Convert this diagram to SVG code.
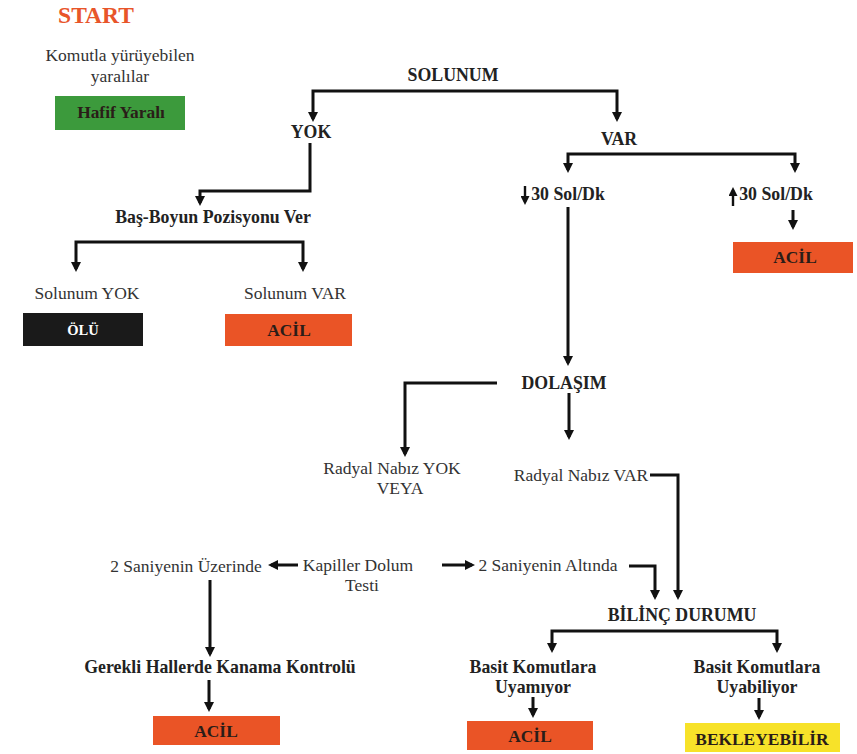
<svg xmlns="http://www.w3.org/2000/svg" width="857" height="754" viewBox="0 0 857 754">
<style>
  text { font-family: "Liberation Serif", "DejaVu Serif", serif; text-anchor: middle; }
  .b { font-weight: bold; font-size: 17.8px; fill: #222; }
  .r { font-size: 17.5px; fill: #333; }
  .bt { font-weight: bold; font-size: 17.4px; fill: #2a1d18; }
  .orange { fill: #ea5426; }
  .c { fill: none; stroke: #111; stroke-width: 3; marker-end: url(#ah); }
  .cs { fill: none; stroke: #111; stroke-width: 2.4; marker-end: url(#ahs); }
</style>
<defs>
  <marker id="ah" markerUnits="userSpaceOnUse" markerWidth="10" markerHeight="10" refX="7" refY="5" orient="auto">
    <path d="M0,0 L10,5 L0,10 z" fill="#111"/>
  </marker>
  <marker id="ahs" markerUnits="userSpaceOnUse" markerWidth="9" markerHeight="9" refX="6" refY="4.5" orient="auto">
    <path d="M0,0 L9,4.5 L0,9 z" fill="#111"/>
  </marker>
</defs>
<rect width="857" height="754" fill="#ffffff"/>

<g id="connectors">
  <path class="c" d="M465,91 H313 V119"/>
  <path class="c" d="M465,91 H617 V119"/>
  <path class="c" d="M310,143 V191 H200 V203"/>
  <path class="c" d="M190,242 H76 V269"/>
  <path class="c" d="M190,242 H303 V269"/>
  <path class="c" d="M680,154 H568 V170"/>
  <path class="c" d="M680,154 H795 V170"/>
  <path class="cs" d="M525,186 V202"/>
  <path class="cs" d="M733,206 V190"/>
  <path class="c" d="M793,210 V227"/>
  <path class="c" d="M568,207 V363"/>
  <path class="c" d="M497,383 H405 V454"/>
  <path class="c" d="M569,393 V437"/>
  <path class="c" d="M650,475 H678 V597"/>
  <path class="c" d="M298,565 H271"/>
  <path class="c" d="M442,565 H472"/>
  <path class="c" d="M629,566 H655 V597"/>
  <path class="c" d="M210,580 V654"/>
  <path class="c" d="M209,680 V709"/>
  <path class="c" d="M660,631 H552 V650"/>
  <path class="c" d="M660,631 H777 V650"/>
  <path class="c" d="M533,697 V715"/>
  <path class="c" d="M759,698 V717"/>
</g>

<g id="start"><text x="96" y="23" style="font-weight:bold;font-size:23.5px;fill:#e8552a">START</text></g>
<g id="komutla">
  <text class="r" x="120" y="61">Komutla yürüyebilen</text>
  <text class="r" x="120" y="82">yaralılar</text>
</g>
<g id="hafif"><rect x="55" y="96" width="130" height="34" fill="#3c9a3c"/><text class="bt" x="121" y="118">Hafif Yaralı</text></g>
<g id="solunum"><text class="b" x="453" y="81">SOLUNUM</text></g>
<g id="yok"><text class="b" x="311" y="138">YOK</text></g>
<g id="var"><text class="b" x="619" y="145">VAR</text></g>
<g id="basboyun"><text class="b" x="213" y="223">Baş-Boyun Pozisyonu Ver</text></g>
<g id="solunum-yok"><text class="r" x="87" y="299">Solunum YOK</text></g>
<g id="solunum-var"><text class="r" x="295" y="299">Solunum VAR</text></g>
<g id="olu"><rect x="23" y="313" width="120" height="33" fill="#1a1a1a"/><text class="bt" x="83" y="335" style="fill:#fff;font-size:14.5px">ÖLÜ</text></g>
<g id="acil1"><rect class="orange" x="225" y="314" width="127" height="32"/><text class="bt" x="289" y="336">ACİL</text></g>
<g id="low30"><text class="b" x="568" y="200">30 Sol/Dk</text></g>
<g id="high30"><text class="b" x="776" y="200">30 Sol/Dk</text></g>
<g id="acil2"><rect class="orange" x="733" y="242" width="120" height="31"/><text class="bt" x="795" y="263">ACİL</text></g>
<g id="dolasim"><text class="b" x="564" y="389">DOLAŞIM</text></g>
<g id="radyal-yok">
  <text class="r" x="392" y="474">Radyal Nabız YOK</text>
  <text class="r" x="400" y="494">VEYA</text>
</g>
<g id="radyal-var"><text class="r" x="581" y="481">Radyal Nabız VAR</text></g>
<g id="kapiller">
  <text class="r" x="358" y="571">Kapiller Dolum</text>
  <text class="r" x="362" y="591">Testi</text>
</g>
<g id="uzerinde"><text class="r" x="186" y="572">2 Saniyenin Üzerinde</text></g>
<g id="altinda"><text class="r" x="548" y="571">2 Saniyenin Altında</text></g>
<g id="bilinc"><text class="b" x="682" y="621">BİLİNÇ DURUMU</text></g>
<g id="gerekli"><text class="b" x="220" y="673">Gerekli Hallerde Kanama Kontrolü</text></g>
<g id="acil3"><rect class="orange" x="153" y="716" width="127" height="29"/><text class="bt" x="216" y="737">ACİL</text></g>
<g id="uyamiyor">
  <text class="b" x="533" y="673">Basit Komutlara</text>
  <text class="b" x="533" y="693">Uyamıyor</text>
</g>
<g id="uyabiliyor">
  <text class="b" x="757" y="673">Basit Komutlara</text>
  <text class="b" x="757" y="693">Uyabiliyor</text>
</g>
<g id="acil4"><rect class="orange" x="467" y="721" width="126" height="29"/><text class="bt" x="530" y="742">ACİL</text></g>
<g id="bekleyebilir"><rect x="685" y="723" width="155" height="29" fill="#f7e229"/><text class="bt" x="762" y="745">BEKLEYEBİLİR</text></g>
</svg>
